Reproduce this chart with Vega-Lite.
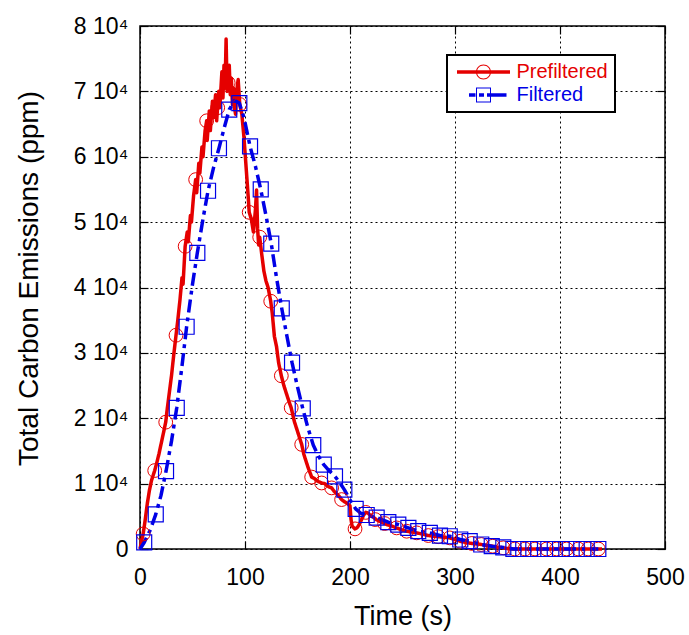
{
  "$schema": "https://vega.github.io/schema/vega-lite/v6.json",
  "width": 525,
  "height": 523,
  "autosize": {"type": "none"},
  "padding": {"left": 140, "top": 26, "right": 24, "bottom": 86},
  "background": "white",
  "config": {
    "font": "Liberation Sans",
    "view": {"stroke": "black", "strokeWidth": 1.5},
    "axis": {
      "domain": false,
      "labelFont": "Liberation Sans",
      "titleFont": "Liberation Sans",
      "labelColor": "black",
      "titleColor": "black",
      "titleFontWeight": "normal",
      "tickColor": "black",
      "tickWidth": 1.2,
      "tickSize": -8,
      "gridColor": "black",
      "gridDash": [2, 3],
      "gridOpacity": 1,
      "gridWidth": 1
    },
    "legend": {"strokeWidth": 2}
  },
  "datasets": {
    "lines": [
      {"t": 0, "v": 0, "series": "Prefiltered"},
      {"t": 1, "v": 800, "series": "Prefiltered"},
      {"t": 3, "v": 2300, "series": "Prefiltered"},
      {"t": 5, "v": 4500, "series": "Prefiltered"},
      {"t": 7, "v": 7000, "series": "Prefiltered"},
      {"t": 9, "v": 9000, "series": "Prefiltered"},
      {"t": 11, "v": 10500, "series": "Prefiltered"},
      {"t": 13, "v": 11500, "series": "Prefiltered"},
      {"t": 14, "v": 12000, "series": "Prefiltered"},
      {"t": 16, "v": 13200, "series": "Prefiltered"},
      {"t": 18, "v": 14500, "series": "Prefiltered"},
      {"t": 20, "v": 16000, "series": "Prefiltered"},
      {"t": 22, "v": 17500, "series": "Prefiltered"},
      {"t": 24.5, "v": 19400, "series": "Prefiltered"},
      {"t": 26, "v": 21500, "series": "Prefiltered"},
      {"t": 28, "v": 24000, "series": "Prefiltered"},
      {"t": 30, "v": 26500, "series": "Prefiltered"},
      {"t": 32, "v": 29500, "series": "Prefiltered"},
      {"t": 34.3, "v": 32700, "series": "Prefiltered"},
      {"t": 36, "v": 35000, "series": "Prefiltered"},
      {"t": 38, "v": 38000, "series": "Prefiltered"},
      {"t": 40, "v": 41500, "series": "Prefiltered"},
      {"t": 41, "v": 40500, "series": "Prefiltered"},
      {"t": 43, "v": 46300, "series": "Prefiltered"},
      {"t": 45, "v": 48500, "series": "Prefiltered"},
      {"t": 46, "v": 47000, "series": "Prefiltered"},
      {"t": 48, "v": 51000, "series": "Prefiltered"},
      {"t": 49, "v": 50000, "series": "Prefiltered"},
      {"t": 51, "v": 54000, "series": "Prefiltered"},
      {"t": 53, "v": 56500, "series": "Prefiltered"},
      {"t": 54, "v": 54500, "series": "Prefiltered"},
      {"t": 56, "v": 59000, "series": "Prefiltered"},
      {"t": 57, "v": 57500, "series": "Prefiltered"},
      {"t": 59, "v": 61500, "series": "Prefiltered"},
      {"t": 60, "v": 60000, "series": "Prefiltered"},
      {"t": 62, "v": 64000, "series": "Prefiltered"},
      {"t": 63.5, "v": 65500, "series": "Prefiltered"},
      {"t": 64, "v": 62500, "series": "Prefiltered"},
      {"t": 66, "v": 67000, "series": "Prefiltered"},
      {"t": 67, "v": 64000, "series": "Prefiltered"},
      {"t": 69, "v": 68500, "series": "Prefiltered"},
      {"t": 70, "v": 66000, "series": "Prefiltered"},
      {"t": 72, "v": 69500, "series": "Prefiltered"},
      {"t": 73, "v": 65500, "series": "Prefiltered"},
      {"t": 75, "v": 70000, "series": "Prefiltered"},
      {"t": 76, "v": 67500, "series": "Prefiltered"},
      {"t": 78, "v": 73000, "series": "Prefiltered"},
      {"t": 79, "v": 69000, "series": "Prefiltered"},
      {"t": 80, "v": 74000, "series": "Prefiltered"},
      {"t": 81, "v": 70500, "series": "Prefiltered"},
      {"t": 82, "v": 78000, "series": "Prefiltered"},
      {"t": 83, "v": 70000, "series": "Prefiltered"},
      {"t": 84, "v": 71300, "series": "Prefiltered"},
      {"t": 85, "v": 74000, "series": "Prefiltered"},
      {"t": 86, "v": 69500, "series": "Prefiltered"},
      {"t": 87, "v": 72000, "series": "Prefiltered"},
      {"t": 88, "v": 68000, "series": "Prefiltered"},
      {"t": 89, "v": 70500, "series": "Prefiltered"},
      {"t": 90, "v": 67500, "series": "Prefiltered"},
      {"t": 91, "v": 66500, "series": "Prefiltered"},
      {"t": 92, "v": 70000, "series": "Prefiltered"},
      {"t": 93.5, "v": 71800, "series": "Prefiltered"},
      {"t": 95, "v": 68000, "series": "Prefiltered"},
      {"t": 97, "v": 66500, "series": "Prefiltered"},
      {"t": 99, "v": 63000, "series": "Prefiltered"},
      {"t": 101, "v": 58500, "series": "Prefiltered"},
      {"t": 103, "v": 54000, "series": "Prefiltered"},
      {"t": 104, "v": 51500, "series": "Prefiltered"},
      {"t": 106, "v": 50500, "series": "Prefiltered"},
      {"t": 108, "v": 48500, "series": "Prefiltered"},
      {"t": 110, "v": 52000, "series": "Prefiltered"},
      {"t": 111, "v": 54900, "series": "Prefiltered"},
      {"t": 112, "v": 49000, "series": "Prefiltered"},
      {"t": 113, "v": 46500, "series": "Prefiltered"},
      {"t": 114, "v": 47700, "series": "Prefiltered"},
      {"t": 116, "v": 45000, "series": "Prefiltered"},
      {"t": 118, "v": 42500, "series": "Prefiltered"},
      {"t": 120, "v": 41000, "series": "Prefiltered"},
      {"t": 122, "v": 40000, "series": "Prefiltered"},
      {"t": 124.5, "v": 37900, "series": "Prefiltered"},
      {"t": 126, "v": 36000, "series": "Prefiltered"},
      {"t": 128, "v": 32500, "series": "Prefiltered"},
      {"t": 130, "v": 31000, "series": "Prefiltered"},
      {"t": 132, "v": 28500, "series": "Prefiltered"},
      {"t": 134.6, "v": 26500, "series": "Prefiltered"},
      {"t": 137, "v": 25000, "series": "Prefiltered"},
      {"t": 140, "v": 23500, "series": "Prefiltered"},
      {"t": 142, "v": 22500, "series": "Prefiltered"},
      {"t": 144, "v": 21600, "series": "Prefiltered"},
      {"t": 147, "v": 19500, "series": "Prefiltered"},
      {"t": 150, "v": 18000, "series": "Prefiltered"},
      {"t": 152, "v": 17000, "series": "Prefiltered"},
      {"t": 154, "v": 16000, "series": "Prefiltered"},
      {"t": 156, "v": 14500, "series": "Prefiltered"},
      {"t": 158, "v": 13500, "series": "Prefiltered"},
      {"t": 160, "v": 12500, "series": "Prefiltered"},
      {"t": 163.5, "v": 11000, "series": "Prefiltered"},
      {"t": 166, "v": 10800, "series": "Prefiltered"},
      {"t": 168, "v": 10500, "series": "Prefiltered"},
      {"t": 170, "v": 10300, "series": "Prefiltered"},
      {"t": 173, "v": 10100, "series": "Prefiltered"},
      {"t": 176, "v": 10000, "series": "Prefiltered"},
      {"t": 178, "v": 9700, "series": "Prefiltered"},
      {"t": 180, "v": 9500, "series": "Prefiltered"},
      {"t": 182.5, "v": 9350, "series": "Prefiltered"},
      {"t": 185, "v": 8800, "series": "Prefiltered"},
      {"t": 187, "v": 8500, "series": "Prefiltered"},
      {"t": 190, "v": 8000, "series": "Prefiltered"},
      {"t": 192, "v": 7560, "series": "Prefiltered"},
      {"t": 195, "v": 7200, "series": "Prefiltered"},
      {"t": 198, "v": 6900, "series": "Prefiltered"},
      {"t": 200, "v": 6600, "series": "Prefiltered"},
      {"t": 201, "v": 4500, "series": "Prefiltered"},
      {"t": 202, "v": 3500, "series": "Prefiltered"},
      {"t": 204.8, "v": 3080, "series": "Prefiltered"},
      {"t": 207, "v": 3300, "series": "Prefiltered"},
      {"t": 209, "v": 3800, "series": "Prefiltered"},
      {"t": 211, "v": 4500, "series": "Prefiltered"},
      {"t": 213, "v": 5200, "series": "Prefiltered"},
      {"t": 215, "v": 5600, "series": "Prefiltered"},
      {"t": 217, "v": 5500, "series": "Prefiltered"},
      {"t": 219, "v": 5200, "series": "Prefiltered"},
      {"t": 222, "v": 4900, "series": "Prefiltered"},
      {"t": 225, "v": 4500, "series": "Prefiltered"},
      {"t": 230, "v": 4100, "series": "Prefiltered"},
      {"t": 235, "v": 3740, "series": "Prefiltered"},
      {"t": 240, "v": 3500, "series": "Prefiltered"},
      {"t": 244, "v": 3230, "series": "Prefiltered"},
      {"t": 250, "v": 2900, "series": "Prefiltered"},
      {"t": 254, "v": 2720, "series": "Prefiltered"},
      {"t": 259, "v": 2600, "series": "Prefiltered"},
      {"t": 263.5, "v": 2470, "series": "Prefiltered"},
      {"t": 270, "v": 2250, "series": "Prefiltered"},
      {"t": 274.6, "v": 2060, "series": "Prefiltered"},
      {"t": 280, "v": 1950, "series": "Prefiltered"},
      {"t": 284, "v": 1880, "series": "Prefiltered"},
      {"t": 290, "v": 1800, "series": "Prefiltered"},
      {"t": 295, "v": 1700, "series": "Prefiltered"},
      {"t": 300, "v": 1450, "series": "Prefiltered"},
      {"t": 305, "v": 1190, "series": "Prefiltered"},
      {"t": 310, "v": 1000, "series": "Prefiltered"},
      {"t": 316, "v": 850, "series": "Prefiltered"},
      {"t": 320, "v": 780, "series": "Prefiltered"},
      {"t": 325, "v": 690, "series": "Prefiltered"},
      {"t": 330, "v": 550, "series": "Prefiltered"},
      {"t": 336, "v": 430, "series": "Prefiltered"},
      {"t": 340, "v": 300, "series": "Prefiltered"},
      {"t": 346, "v": 180, "series": "Prefiltered"},
      {"t": 350, "v": 80, "series": "Prefiltered"},
      {"t": 355, "v": 0, "series": "Prefiltered"},
      {"t": 440, "v": 0, "series": "Prefiltered"},
      {"t": 0, "v": 0, "series": "Filtered"},
      {"t": 4, "v": 1000, "series": "Filtered"},
      {"t": 10, "v": 3000, "series": "Filtered"},
      {"t": 15, "v": 5300, "series": "Filtered"},
      {"t": 20, "v": 8200, "series": "Filtered"},
      {"t": 24.8, "v": 11900, "series": "Filtered"},
      {"t": 30, "v": 16500, "series": "Filtered"},
      {"t": 35, "v": 21600, "series": "Filtered"},
      {"t": 40, "v": 28000, "series": "Filtered"},
      {"t": 44.4, "v": 34000, "series": "Filtered"},
      {"t": 50, "v": 40500, "series": "Filtered"},
      {"t": 54.6, "v": 45300, "series": "Filtered"},
      {"t": 60, "v": 50500, "series": "Filtered"},
      {"t": 64.8, "v": 54800, "series": "Filtered"},
      {"t": 70, "v": 58300, "series": "Filtered"},
      {"t": 75.2, "v": 61300, "series": "Filtered"},
      {"t": 80, "v": 64300, "series": "Filtered"},
      {"t": 85, "v": 67200, "series": "Filtered"},
      {"t": 90, "v": 68600, "series": "Filtered"},
      {"t": 94.6, "v": 68200, "series": "Filtered"},
      {"t": 99, "v": 66000, "series": "Filtered"},
      {"t": 104.8, "v": 61600, "series": "Filtered"},
      {"t": 110, "v": 58500, "series": "Filtered"},
      {"t": 115, "v": 55000, "series": "Filtered"},
      {"t": 120, "v": 51000, "series": "Filtered"},
      {"t": 125, "v": 46700, "series": "Filtered"},
      {"t": 130, "v": 41500, "series": "Filtered"},
      {"t": 135, "v": 36800, "series": "Filtered"},
      {"t": 140, "v": 32500, "series": "Filtered"},
      {"t": 144.8, "v": 28500, "series": "Filtered"},
      {"t": 150, "v": 24800, "series": "Filtered"},
      {"t": 155, "v": 21500, "series": "Filtered"},
      {"t": 160, "v": 18500, "series": "Filtered"},
      {"t": 165, "v": 15900, "series": "Filtered"},
      {"t": 170, "v": 14200, "series": "Filtered"},
      {"t": 175, "v": 12900, "series": "Filtered"},
      {"t": 180, "v": 12000, "series": "Filtered"},
      {"t": 185.7, "v": 11100, "series": "Filtered"},
      {"t": 190, "v": 10200, "series": "Filtered"},
      {"t": 194.6, "v": 9080, "series": "Filtered"},
      {"t": 200, "v": 7500, "series": "Filtered"},
      {"t": 205.4, "v": 6140, "series": "Filtered"},
      {"t": 210, "v": 5500, "series": "Filtered"},
      {"t": 215.9, "v": 5200, "series": "Filtered"},
      {"t": 225.4, "v": 4800, "series": "Filtered"},
      {"t": 236.5, "v": 4100, "series": "Filtered"},
      {"t": 246, "v": 3740, "series": "Filtered"},
      {"t": 255.6, "v": 3230, "series": "Filtered"},
      {"t": 265, "v": 2720, "series": "Filtered"},
      {"t": 276, "v": 2470, "series": "Filtered"},
      {"t": 285.7, "v": 2060, "series": "Filtered"},
      {"t": 295, "v": 1950, "series": "Filtered"},
      {"t": 305, "v": 1450, "series": "Filtered"},
      {"t": 314, "v": 1190, "series": "Filtered"},
      {"t": 325, "v": 690, "series": "Filtered"},
      {"t": 335, "v": 430, "series": "Filtered"},
      {"t": 346, "v": 250, "series": "Filtered"},
      {"t": 355.6, "v": 0, "series": "Filtered"},
      {"t": 436.5, "v": 0, "series": "Filtered"}
    ],
    "markers": [
      {"t": 3, "v": 2300, "series": "Prefiltered"},
      {"t": 14, "v": 12000, "series": "Prefiltered"},
      {"t": 24.5, "v": 19400, "series": "Prefiltered"},
      {"t": 34.3, "v": 32700, "series": "Prefiltered"},
      {"t": 43, "v": 46300, "series": "Prefiltered"},
      {"t": 53, "v": 56500, "series": "Prefiltered"},
      {"t": 63.5, "v": 65500, "series": "Prefiltered"},
      {"t": 74, "v": 67500, "series": "Prefiltered"},
      {"t": 84, "v": 71300, "series": "Prefiltered"},
      {"t": 95, "v": 68000, "series": "Prefiltered"},
      {"t": 104, "v": 51500, "series": "Prefiltered"},
      {"t": 114, "v": 47700, "series": "Prefiltered"},
      {"t": 124.5, "v": 37900, "series": "Prefiltered"},
      {"t": 134.6, "v": 26500, "series": "Prefiltered"},
      {"t": 144, "v": 21600, "series": "Prefiltered"},
      {"t": 154, "v": 16000, "series": "Prefiltered"},
      {"t": 163.5, "v": 11000, "series": "Prefiltered"},
      {"t": 173, "v": 10100, "series": "Prefiltered"},
      {"t": 182.5, "v": 9350, "series": "Prefiltered"},
      {"t": 192, "v": 7560, "series": "Prefiltered"},
      {"t": 204.8, "v": 3080, "series": "Prefiltered"},
      {"t": 215, "v": 5600, "series": "Prefiltered"},
      {"t": 224, "v": 4500, "series": "Prefiltered"},
      {"t": 233, "v": 3900, "series": "Prefiltered"},
      {"t": 244.4, "v": 3230, "series": "Prefiltered"},
      {"t": 254, "v": 2720, "series": "Prefiltered"},
      {"t": 263.5, "v": 2470, "series": "Prefiltered"},
      {"t": 274.6, "v": 2060, "series": "Prefiltered"},
      {"t": 284, "v": 1880, "series": "Prefiltered"},
      {"t": 295, "v": 1700, "series": "Prefiltered"},
      {"t": 305, "v": 1190, "series": "Prefiltered"},
      {"t": 316, "v": 850, "series": "Prefiltered"},
      {"t": 325, "v": 690, "series": "Prefiltered"},
      {"t": 336, "v": 430, "series": "Prefiltered"},
      {"t": 346, "v": 180, "series": "Prefiltered"},
      {"t": 357, "v": 0, "series": "Prefiltered"},
      {"t": 366.7, "v": 0, "series": "Prefiltered"},
      {"t": 376.2, "v": 0, "series": "Prefiltered"},
      {"t": 387.3, "v": 0, "series": "Prefiltered"},
      {"t": 396.8, "v": 0, "series": "Prefiltered"},
      {"t": 406.3, "v": 0, "series": "Prefiltered"},
      {"t": 417.4, "v": 0, "series": "Prefiltered"},
      {"t": 426.9, "v": 0, "series": "Prefiltered"},
      {"t": 436.5, "v": 0, "series": "Prefiltered"},
      {"t": 4, "v": 1000, "series": "Filtered"},
      {"t": 15, "v": 5300, "series": "Filtered"},
      {"t": 24.8, "v": 11900, "series": "Filtered"},
      {"t": 35, "v": 21600, "series": "Filtered"},
      {"t": 44.4, "v": 34000, "series": "Filtered"},
      {"t": 54.6, "v": 45300, "series": "Filtered"},
      {"t": 64.8, "v": 54800, "series": "Filtered"},
      {"t": 75.2, "v": 61300, "series": "Filtered"},
      {"t": 85, "v": 67200, "series": "Filtered"},
      {"t": 94.6, "v": 68200, "series": "Filtered"},
      {"t": 104.8, "v": 61600, "series": "Filtered"},
      {"t": 115, "v": 55000, "series": "Filtered"},
      {"t": 125, "v": 46700, "series": "Filtered"},
      {"t": 135, "v": 36800, "series": "Filtered"},
      {"t": 144.8, "v": 28500, "series": "Filtered"},
      {"t": 155, "v": 21500, "series": "Filtered"},
      {"t": 165, "v": 15900, "series": "Filtered"},
      {"t": 175, "v": 12900, "series": "Filtered"},
      {"t": 185.7, "v": 11100, "series": "Filtered"},
      {"t": 194.6, "v": 9080, "series": "Filtered"},
      {"t": 205.4, "v": 6140, "series": "Filtered"},
      {"t": 215.9, "v": 5200, "series": "Filtered"},
      {"t": 225.4, "v": 4800, "series": "Filtered"},
      {"t": 236.5, "v": 4100, "series": "Filtered"},
      {"t": 246, "v": 3740, "series": "Filtered"},
      {"t": 255.6, "v": 3230, "series": "Filtered"},
      {"t": 265, "v": 2720, "series": "Filtered"},
      {"t": 276, "v": 2470, "series": "Filtered"},
      {"t": 285.7, "v": 2060, "series": "Filtered"},
      {"t": 295, "v": 1950, "series": "Filtered"},
      {"t": 305, "v": 1450, "series": "Filtered"},
      {"t": 314, "v": 1190, "series": "Filtered"},
      {"t": 325, "v": 690, "series": "Filtered"},
      {"t": 335, "v": 430, "series": "Filtered"},
      {"t": 346, "v": 250, "series": "Filtered"},
      {"t": 355.6, "v": 0, "series": "Filtered"},
      {"t": 365, "v": 0, "series": "Filtered"},
      {"t": 374.6, "v": 0, "series": "Filtered"},
      {"t": 385.7, "v": 0, "series": "Filtered"},
      {"t": 395, "v": 0, "series": "Filtered"},
      {"t": 406, "v": 0, "series": "Filtered"},
      {"t": 415.9, "v": 0, "series": "Filtered"},
      {"t": 425.4, "v": 0, "series": "Filtered"},
      {"t": 436.5, "v": 0, "series": "Filtered"}
    ]
  },
  "resolve": {"axis": {"x": "independent", "y": "independent"}},
  "layer": [
    {
      "data": {"name": "lines"},
      "mark": {"type": "line", "strokeWidth": 3.5, "strokeJoin": "round"},
      "encoding": {
        "x": {
          "field": "t", "type": "quantitative",
          "scale": {"domain": [0, 500], "nice": false},
          "axis": {
            "title": "Time (s)", "values": [0, 100, 200, 300, 400, 500],
            "labelFontSize": 23, "titleFontSize": 27, "labelPadding": 25,
            "titlePadding": 14, "grid": true, "labelFlush": false
          }
        },
        "y": {
          "field": "v", "type": "quantitative",
          "scale": {"domain": [0, 80000], "nice": false},
          "axis": {
            "title": "Total Carbon Emissions (ppm)",
            "values": [0, 10000, 20000, 30000, 40000, 50000, 60000, 70000, 80000],
            "labelExpr": "datum.value === 0 ? '0' : format(datum.value / 10000, 'd') + ' 10\u2074'",
            "labelFontSize": 23, "titleFontSize": 28, "labelPadding": 20,
            "titlePadding": 30, "titleY": 252, "grid": true, "labelFlush": false
          }
        },
        "color": {
          "field": "series", "type": "nominal",
          "scale": {"domain": ["Prefiltered", "Filtered"], "range": ["#e50000", "#0000e6"]},
          "legend": {
            "title": null, "orient": "none", "legendX": 307, "legendY": 29,
            "strokeColor": "black", "fillColor": "white", "padding": 7,
            "symbolSize": 400, "symbolOffset": 19.5, "labelOffset": 23,
            "labelFontSize": 20, "labelFont": "Liberation Sans", "rowPadding": 3,
            "encode": {
              "symbols": {
                "update": {
                  "shape": {"signal": "datum.value === 'Prefiltered' ? 'M-2.65,-0.17H2.65V0.17H-2.65Z M0.75,0A0.75,0.75 0 1 1 -0.75,0A0.75,0.75 0 1 1 0.75,0Z M0.65,0A0.65,0.65 0 1 0 -0.65,0A0.65,0.65 0 1 0 0.65,0Z' : 'M-1.45,-0.18H-0.8V0.18H-1.45Z M-0.45,-0.18H0.05V0.18H-0.45Z M0.35,-0.18H2.3V0.18H0.35Z M-0.75,-0.75H0.75V0.75H-0.75Z M-0.65,-0.65V0.65H0.65V-0.65Z'"},
                  "fill": {"signal": "datum.value === 'Prefiltered' ? '#e50000' : '#0000e6'"},
                  "fillOpacity": {"value": 1},
                  "opacity": {"value": 1},
                  "strokeWidth": {"value": 0}
                }
              },
              "labels": {
                "update": {
                  "fill": {"signal": "datum.value === 'Prefiltered' ? '#e50000' : '#0000e6'"}
                }
              }
            }
          }
        },
        "strokeDash": {
          "field": "series", "type": "nominal",
          "scale": {"domain": ["Prefiltered", "Filtered"], "range": [[1, 0], [13, 5, 4, 5]]},
          "legend": null
        }
      }
    },
    {
      "data": {"name": "markers"},
      "transform": [{"filter": "datum.series === 'Prefiltered'"}],
      "mark": {"type": "point", "shape": "circle", "filled": false, "size": 190, "strokeWidth": 1, "color": "#e50000", "opacity": 1},
      "encoding": {
        "x": {"field": "t", "type": "quantitative", "scale": {"domain": [0, 500], "nice": false}, "axis": null},
        "y": {"field": "v", "type": "quantitative", "scale": {"domain": [0, 80000], "nice": false}, "axis": null}
      }
    },
    {
      "data": {"name": "markers"},
      "transform": [{"filter": "datum.series === 'Filtered'"}],
      "mark": {"type": "point", "shape": "square", "filled": false, "size": 225, "strokeWidth": 1.2, "color": "#0000e6", "opacity": 1},
      "encoding": {
        "x": {"field": "t", "type": "quantitative", "scale": {"domain": [0, 500], "nice": false}, "axis": null},
        "y": {"field": "v", "type": "quantitative", "scale": {"domain": [0, 80000], "nice": false}, "axis": null}
      }
    },
    {
      "data": {"name": "markers"},
      "mark": {"type": "point", "opacity": 0},
      "encoding": {
        "x": {
          "field": "t", "type": "quantitative", "scale": {"domain": [0, 500], "nice": false},
          "axis": {"orient": "top", "labels": false, "grid": false, "title": null, "values": [0, 100, 200, 300, 400, 500]}
        },
        "y": {
          "field": "v", "type": "quantitative", "scale": {"domain": [0, 80000], "nice": false},
          "axis": {"orient": "right", "labels": false, "grid": false, "title": null, "values": [0, 10000, 20000, 30000, 40000, 50000, 60000, 70000, 80000]}
        }
      }
    }
  ]
}
